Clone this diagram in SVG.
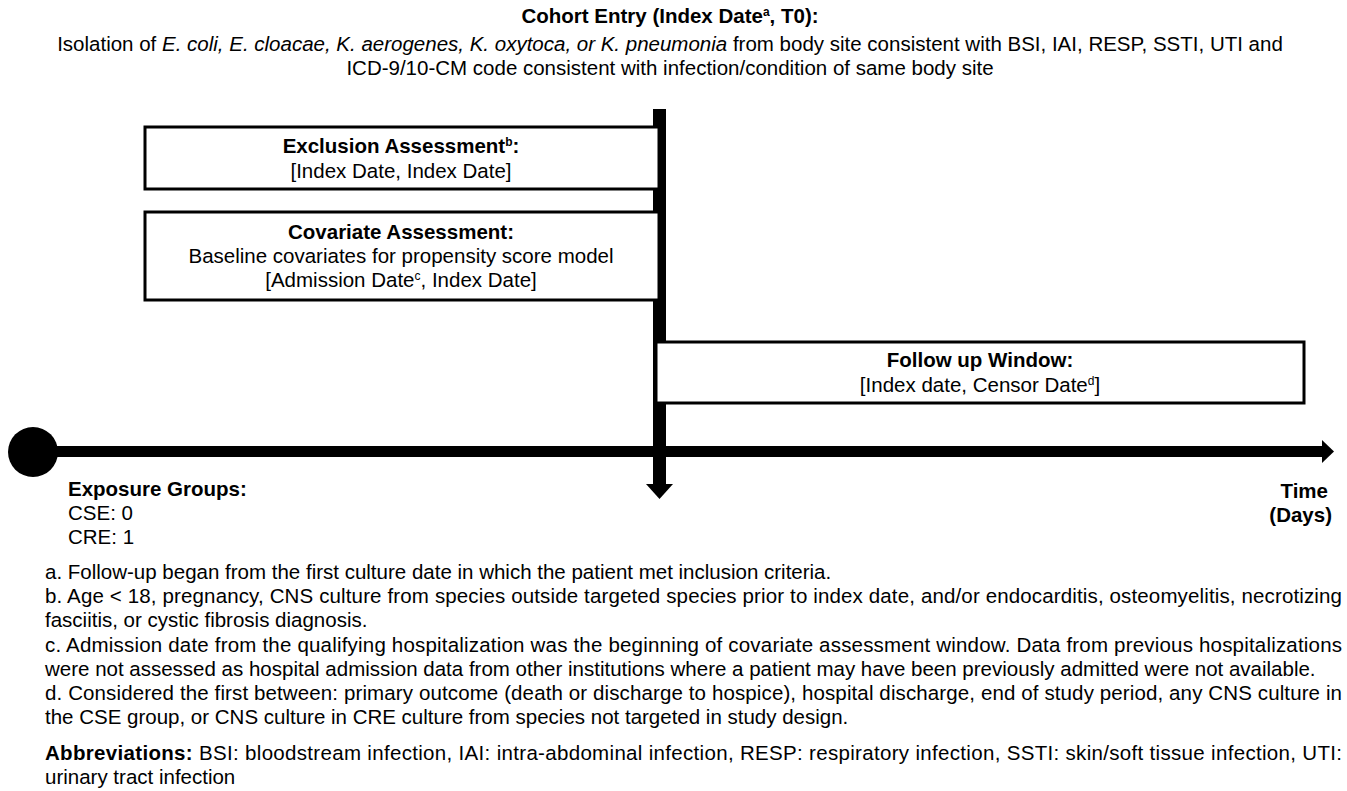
<svg xmlns="http://www.w3.org/2000/svg" width="1347" height="791" viewBox="0 0 1347 791">
<style>
text{font-family:"Liberation Sans",Arial,sans-serif;font-size:20.5px;fill:#000}
.b{font-weight:bold}
.c{text-anchor:middle}
.box{fill:#fff;stroke:#000;stroke-width:3}
.sup{font-size:12px}
</style>
<rect width="1347" height="791" fill="#fff"/>
<g id="header">
<text class="b c" x="670" y="23">Cohort Entry (Index Date<tspan class="sup" baseline-shift="super">a</tspan>, T0):</text>
<text class="c" x="670" y="51">Isolation of <tspan font-style="italic">E. coli, E. cloacae, K. aerogenes, K. oxytoca, or K. pneumonia</tspan> from body site consistent with BSI, IAI, RESP, SSTI, UTI and</text>
<text class="c" x="670" y="75">ICD-9/10-CM code consistent with infection/condition of same body site</text>
</g>
<g id="connectors">
<rect x="653" y="109" width="13" height="376" fill="#000"/>
<polygon points="646,484 673,484 659.5,499" fill="#000"/>
<rect x="30" y="446" width="1293" height="11" fill="#000"/>
<polygon points="1322,440 1334,451.5 1322,463" fill="#000"/>
<circle cx="33" cy="452" r="25" fill="#000"/>
</g>
<g id="exclusion">
<rect class="box" x="145" y="127" width="514" height="62"/>
<text class="b c" x="401" y="153">Exclusion Assessment<tspan class="sup" baseline-shift="super">b</tspan>:</text>
<text class="c" x="401" y="178">[Index Date, Index Date]</text>
</g>
<g id="covariate">
<rect class="box" x="145" y="212" width="514" height="88"/>
<text class="b c" x="401" y="239">Covariate Assessment:</text>
<text class="c" x="401" y="263">Baseline covariates for propensity score model</text>
<text class="c" x="401" y="287">[Admission Date<tspan class="sup" baseline-shift="super">c</tspan>, Index Date]</text>
</g>
<g id="followup">
<rect class="box" x="656" y="342" width="648" height="61"/>
<text class="b c" x="980" y="367">Follow up Window:</text>
<text class="c" x="980" y="392">[Index date, Censor Date<tspan class="sup" baseline-shift="super">d</tspan>]</text>
</g>
<g id="exposure">
<text class="b" x="68" y="496">Exposure Groups:</text>
<text x="68" y="520">CSE: 0</text>
<text x="68" y="544">CRE: 1</text>
</g>
<g id="time">
<text class="b" x="1328" y="498" text-anchor="end">Time</text>
<text class="b" x="1332" y="522" text-anchor="end">(Days)</text>
</g>
<g id="footnotes">
<text x="45" y="579">a. Follow-up began from the first culture date in which the patient met inclusion criteria.</text>
<text x="45" y="603" textLength="1297" lengthAdjust="spacing">b. Age &lt; 18, pregnancy, CNS culture from species outside targeted species prior to index date, and/or endocarditis, osteomyelitis, necrotizing</text>
<text x="45" y="627">fasciitis, or cystic fibrosis diagnosis.</text>
<text x="45" y="652" textLength="1297" lengthAdjust="spacing">c. Admission date from the qualifying hospitalization was the beginning of covariate assessment window. Data from previous hospitalizations</text>
<text x="45" y="676">were not assessed as hospital admission data from other institutions where a patient may have been previously admitted were not available.</text>
<text x="45" y="700" textLength="1297" lengthAdjust="spacing">d. Considered the first between: primary outcome (death or discharge to hospice), hospital discharge, end of study period, any CNS culture in</text>
<text x="45" y="724">the CSE group, or CNS culture in CRE culture from species not targeted in study design.</text>
<text x="45" y="760" textLength="1297" lengthAdjust="spacing"><tspan class="b">Abbreviations:</tspan> BSI: bloodstream infection, IAI: intra-abdominal infection, RESP: respiratory infection, SSTI: skin/soft tissue infection, UTI:</text>
<text x="45" y="784">urinary tract infection</text>
</g>
</svg>
